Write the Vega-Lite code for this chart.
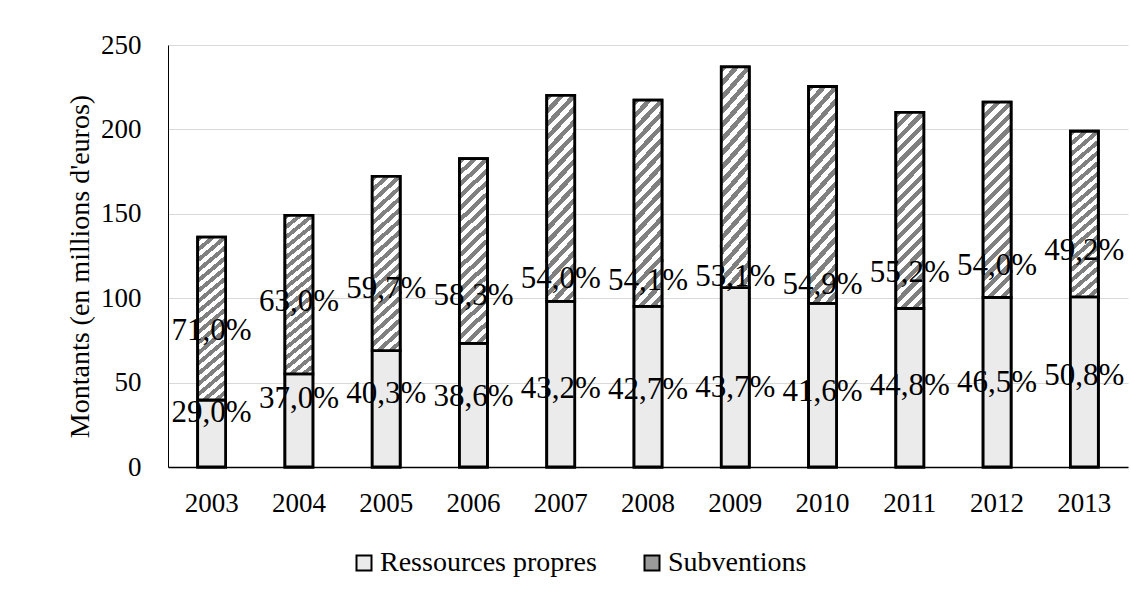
{
  "$schema": "https://vega.github.io/schema/vega-lite/v6.json",
  "autosize": {"type": "none"},
  "padding": {"left": 168, "top": 45, "right": 3, "bottom": 127},
  "width": 960,
  "height": 422,
  "background": "#ffffff",
  "config": {
    "view": {"stroke": null},
    "font": "Liberation Serif",
    "locale": {"number": {"decimal": ",", "thousands": "\u00a0", "grouping": [3], "currency": ["", " €"], "percent": "%"}}
  },
  "datasets": {
    "financement": [
      {"year": "2003", "Ressources propres": 39.7, "Subventions": 96.5, "pct_propres": 0.290, "pct_subv": 0.710},
      {"year": "2004", "Ressources propres": 55.2, "Subventions": 93.9, "pct_propres": 0.370, "pct_subv": 0.630},
      {"year": "2005", "Ressources propres": 69.0, "Subventions": 103.2, "pct_propres": 0.403, "pct_subv": 0.597},
      {"year": "2006", "Ressources propres": 73.2, "Subventions": 109.5, "pct_propres": 0.386, "pct_subv": 0.583},
      {"year": "2007", "Ressources propres": 98.1, "Subventions": 122.1, "pct_propres": 0.432, "pct_subv": 0.540},
      {"year": "2008", "Ressources propres": 95.1, "Subventions": 122.2, "pct_propres": 0.427, "pct_subv": 0.541},
      {"year": "2009", "Ressources propres": 106.3, "Subventions": 130.8, "pct_propres": 0.437, "pct_subv": 0.531},
      {"year": "2010", "Ressources propres": 96.9, "Subventions": 128.5, "pct_propres": 0.416, "pct_subv": 0.549},
      {"year": "2011", "Ressources propres": 93.9, "Subventions": 116.2, "pct_propres": 0.448, "pct_subv": 0.552},
      {"year": "2012", "Ressources propres": 100.4, "Subventions": 115.7, "pct_propres": 0.465, "pct_subv": 0.540},
      {"year": "2013", "Ressources propres": 100.8, "Subventions": 98.1, "pct_propres": 0.508, "pct_subv": 0.492}
    ]
  },
  "data": {"name": "financement"},
  "encoding": {
    "x": {
      "field": "year", "type": "ordinal",
      "scale": {"paddingInner": 0.68, "paddingOuter": 0.34},
      "axis": {
        "title": null, "labelAngle": 0, "ticks": false, "tickSize": 0,
        "domainColor": "#000000", "domainWidth": 1.5,
        "labelFont": "Liberation Serif", "labelFontSize": 27, "labelColor": "#000000",
        "labelPadding": 23, "grid": false
      }
    }
  },
  "layer": [
    {
      "transform": [{"fold": ["Ressources propres", "Subventions"], "as": ["type", "amount"]}],
      "mark": {"type": "bar", "stroke": "#000000", "strokeWidth": 2.8},
      "encoding": {
        "y": {
          "field": "amount", "type": "quantitative", "stack": "zero",
          "scale": {"domain": [0, 250], "nice": false},
          "axis": {
            "title": "Montants (en millions d'euros)",
            "values": [0, 50, 100, 150, 200, 250],
            "grid": true, "gridColor": "#d9d9d9", "gridWidth": 1,
            "domainColor": "#000000", "domainWidth": 1,
            "ticks": false, "tickSize": 0,
            "labelFont": "Liberation Serif", "labelFontSize": 27, "labelColor": "#000000", "labelPadding": 27,
            "titleFont": "Liberation Serif", "titleFontSize": 28, "titleFontWeight": "normal", "titleColor": "#000000",
            "titleX": -80, "titleY": 221, "titleBaseline": "alphabetic"
          }
        },
        "fill": {
          "field": "type", "type": "nominal",
          "scale": {"domain": ["Ressources propres", "Subventions"], "range": ["#ebebeb", "#9a9a9a"]},
          "legend": {
            "orient": "none", "legendX": 182, "legendY": 504, "direction": "horizontal",
            "title": null, "symbolType": "square", "symbolSize": 225,
            "symbolStrokeColor": "#000000", "symbolStrokeWidth": 2,
            "labelFont": "Liberation Serif", "labelFontSize": 28, "labelColor": "#000000", "labelLimit": 0,
            "labelOffset": 2, "columnPadding": 41, "padding": 0
          }
        }
      }
    },
    {
      "transform": [{"fold": ["Ressources propres", "Subventions"], "as": ["type", "amount"]}],
      "mark": {"type": "bar", "stroke": "#000000", "strokeWidth": 2.8},
      "encoding": {
        "y": {"field": "amount", "type": "quantitative", "stack": "zero", "scale": {"domain": [0, 250], "nice": false}, "axis": null},
        "order": {"field": "type"},
        "fill": {
          "condition": {
            "test": "datum.type === 'Subventions'",
            "value": {"gradient": "linear", "x1": 0, "y1": 0, "x2": 0.161, "y2": 1.12, "stops": [
                {"offset": 0, "color": "#808080"}, {"offset": 0.0278, "color": "#808080"}, {"offset": 0.0278, "color": "#ffffff"}, {"offset": 0.0556, "color": "#ffffff"},
                {"offset": 0.0556, "color": "#808080"}, {"offset": 0.0833, "color": "#808080"}, {"offset": 0.0833, "color": "#ffffff"}, {"offset": 0.1111, "color": "#ffffff"},
                {"offset": 0.1111, "color": "#808080"}, {"offset": 0.1389, "color": "#808080"}, {"offset": 0.1389, "color": "#ffffff"}, {"offset": 0.1667, "color": "#ffffff"},
                {"offset": 0.1667, "color": "#808080"}, {"offset": 0.1944, "color": "#808080"}, {"offset": 0.1944, "color": "#ffffff"}, {"offset": 0.2222, "color": "#ffffff"},
                {"offset": 0.2222, "color": "#808080"}, {"offset": 0.25, "color": "#808080"}, {"offset": 0.25, "color": "#ffffff"}, {"offset": 0.2778, "color": "#ffffff"},
                {"offset": 0.2778, "color": "#808080"}, {"offset": 0.3056, "color": "#808080"}, {"offset": 0.3056, "color": "#ffffff"}, {"offset": 0.3333, "color": "#ffffff"},
                {"offset": 0.3333, "color": "#808080"}, {"offset": 0.3611, "color": "#808080"}, {"offset": 0.3611, "color": "#ffffff"}, {"offset": 0.3889, "color": "#ffffff"},
                {"offset": 0.3889, "color": "#808080"}, {"offset": 0.4167, "color": "#808080"}, {"offset": 0.4167, "color": "#ffffff"}, {"offset": 0.4444, "color": "#ffffff"},
                {"offset": 0.4444, "color": "#808080"}, {"offset": 0.4722, "color": "#808080"}, {"offset": 0.4722, "color": "#ffffff"}, {"offset": 0.5, "color": "#ffffff"},
                {"offset": 0.5, "color": "#808080"}, {"offset": 0.5278, "color": "#808080"}, {"offset": 0.5278, "color": "#ffffff"}, {"offset": 0.5556, "color": "#ffffff"},
                {"offset": 0.5556, "color": "#808080"}, {"offset": 0.5833, "color": "#808080"}, {"offset": 0.5833, "color": "#ffffff"}, {"offset": 0.6111, "color": "#ffffff"},
                {"offset": 0.6111, "color": "#808080"}, {"offset": 0.6389, "color": "#808080"}, {"offset": 0.6389, "color": "#ffffff"}, {"offset": 0.6667, "color": "#ffffff"},
                {"offset": 0.6667, "color": "#808080"}, {"offset": 0.6944, "color": "#808080"}, {"offset": 0.6944, "color": "#ffffff"}, {"offset": 0.7222, "color": "#ffffff"},
                {"offset": 0.7222, "color": "#808080"}, {"offset": 0.75, "color": "#808080"}, {"offset": 0.75, "color": "#ffffff"}, {"offset": 0.7778, "color": "#ffffff"},
                {"offset": 0.7778, "color": "#808080"}, {"offset": 0.8056, "color": "#808080"}, {"offset": 0.8056, "color": "#ffffff"}, {"offset": 0.8333, "color": "#ffffff"},
                {"offset": 0.8333, "color": "#808080"}, {"offset": 0.8611, "color": "#808080"}, {"offset": 0.8611, "color": "#ffffff"}, {"offset": 0.8889, "color": "#ffffff"},
                {"offset": 0.8889, "color": "#808080"}, {"offset": 0.9167, "color": "#808080"}, {"offset": 0.9167, "color": "#ffffff"}, {"offset": 0.9444, "color": "#ffffff"},
                {"offset": 0.9444, "color": "#808080"}, {"offset": 0.9722, "color": "#808080"}, {"offset": 0.9722, "color": "#ffffff"}, {"offset": 1, "color": "#ffffff"}
              ]}
          },
          "value": "#ebebeb"
        }
      }
    },
    {
      "mark": {"type": "text", "font": "Liberation Serif", "fontSize": 31, "color": "#000000", "baseline": "middle", "align": "center"},
      "encoding": {
        "y": {"field": "pct_propres", "type": "quantitative", "scale": {"domain": [-0.03, 2.47], "nice": false, "zero": false}, "axis": null},
        "text": {"field": "pct_propres", "type": "quantitative", "format": ".1%"}
      }
    },
    {
      "mark": {"type": "text", "font": "Liberation Serif", "fontSize": 31, "color": "#000000", "baseline": "middle", "align": "center"},
      "encoding": {
        "y": {"field": "pct_propres", "type": "quantitative", "scale": {"domain": [-0.075, 1.0614], "nice": false, "zero": false}, "axis": null},
        "text": {"field": "pct_subv", "type": "quantitative", "format": ".1%"}
      }
    }
  ],
  "resolve": {"scale": {"y": "independent"}}
}
